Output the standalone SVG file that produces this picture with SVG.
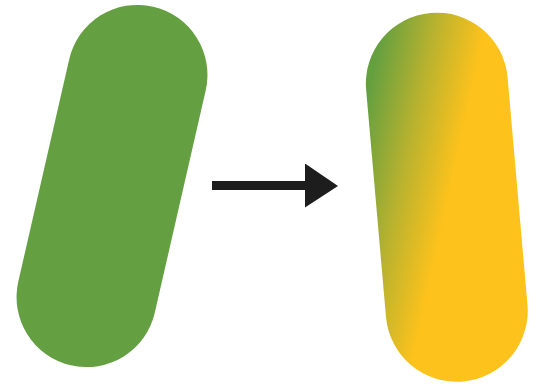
<svg xmlns="http://www.w3.org/2000/svg" width="546" height="384" viewBox="0 0 546 384">
  <defs>
    <linearGradient id="ripen" gradientUnits="userSpaceOnUse" x1="-65" y1="-123" x2="31" y2="-93">
      <stop offset="0" stop-color="#65a03f"/>
      <stop offset="0.5" stop-color="#b8b22f"/>
      <stop offset="1" stop-color="#fdc21c"/>
    </linearGradient>
    <marker id="head" markerUnits="userSpaceOnUse" markerWidth="34" markerHeight="44" refX="1" refY="22" orient="auto" viewBox="0 0 34 44">
      <path d="M0,0 L33,22.5 L0,44 Z" fill="#1d1d1d"/>
    </marker>
    <style>
      .arrow { stroke: #1d1d1d; stroke-width: 9; fill: none; }
    </style>
  </defs>
  <rect width="546" height="384" fill="#ffffff"/>
  <g id="green-capsule" transform="translate(112 186) rotate(12.9)">
    <rect x="-70" y="-184" width="140" height="368" rx="70" ry="70" fill="#64a042"/>
  </g>
  <g id="ripe-capsule" transform="translate(446.8 197.2) rotate(-5)">
    <rect x="-71" y="-185" width="142" height="370" rx="71" ry="71" fill="url(#ripen)"/>
  </g>
  <g id="connectors">
    <line class="arrow" x1="212" y1="185.5" x2="306" y2="185.5" marker-end="url(#head)"/>
  </g>
</svg>
